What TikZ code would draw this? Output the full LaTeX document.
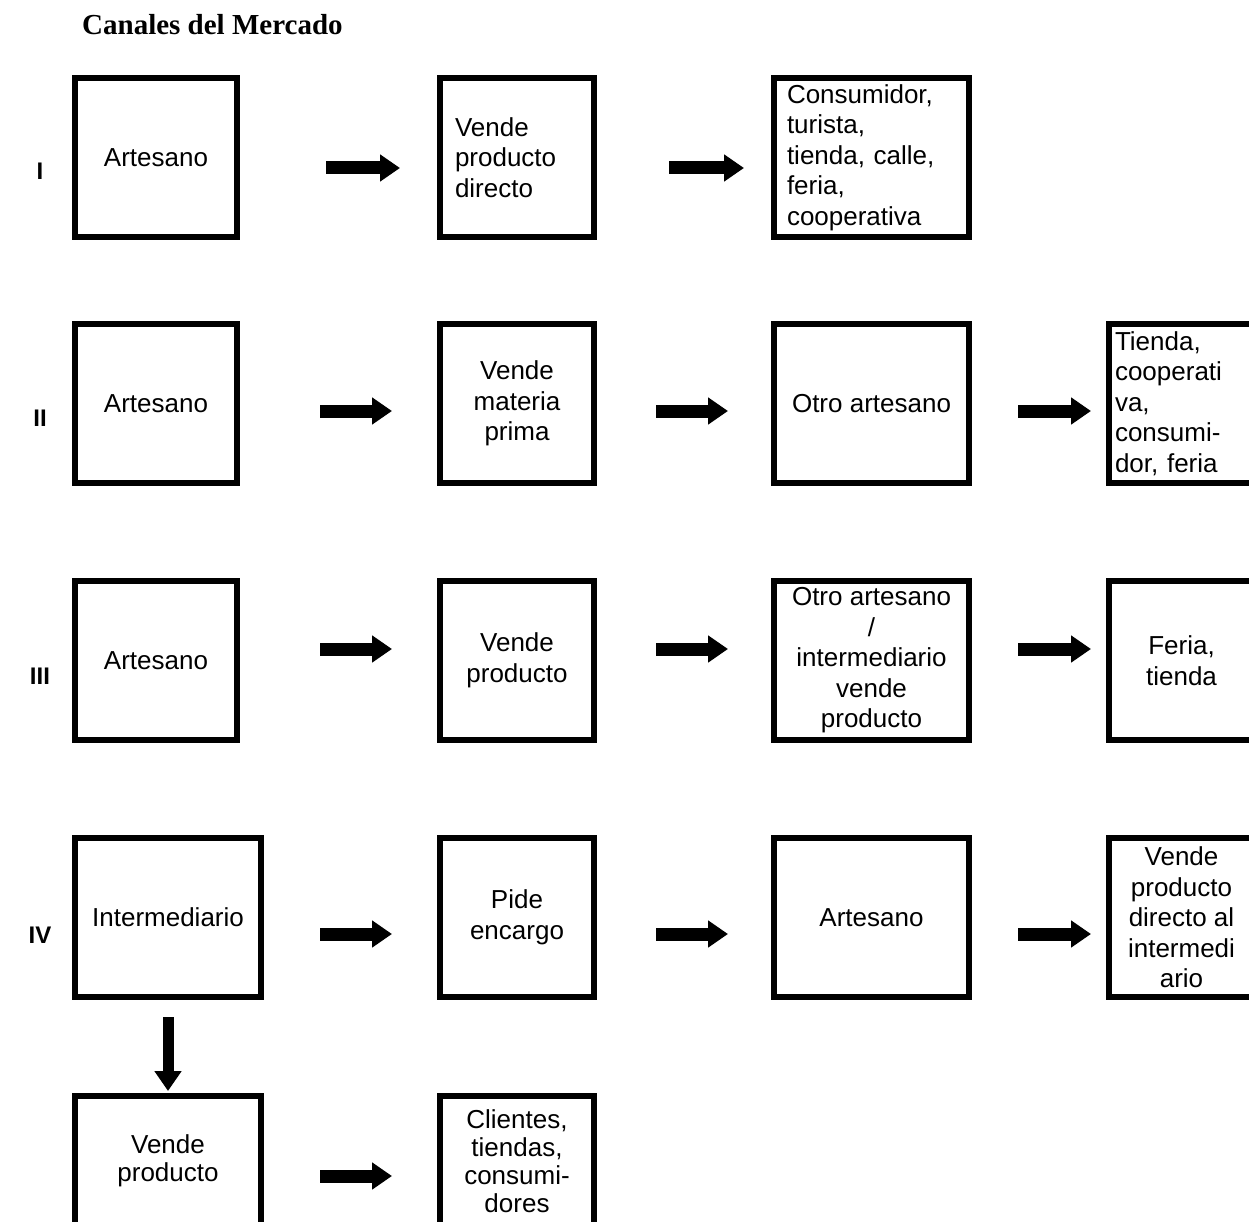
\documentclass[tikz,border=0pt]{standalone}
\usepackage{fontspec}
\setmainfont{Liberation Sans}
\newfontfamily\titelfont{Liberation Serif}
\usetikzlibrary{arrows.meta, calc}
\tikzset{
    kasten/.style={draw, line width=5.5pt, outer sep=0pt, inner sep=0pt,
        align=center, minimum height=159pt, font=\fontsize{26}{30.5}\selectfont},
    pfeil/.style={line width=13pt, -{Triangle[length=20pt,width=26pt]}},
    stufe/.style={font=\fontsize{24}{28}\selectfont\bfseries},
}

\begin{document}
\begin{tikzpicture}[x=1pt, y=-1pt]

% Rahmen (Bildgroesse)
\useasboundingbox (0,0) rectangle (1249,1222);

% Titel
\node[anchor=base west, inner sep=0pt, font=\titelfont\fontsize{29}{34}\selectfont\bfseries] (titel) at (82,35) {Canales del Mercado};

% Stufen
\node[stufe] (L1) at (40,171) {I};
\node[stufe] (L2) at (40,418) {II};
\node[stufe] (L3) at (40,676) {III};
\node[stufe] (L4) at (40,935) {IV};

% Zeile I
\node[kasten, minimum width=162pt] (A1) at (156,157.5) {Artesano};
\node[kasten, minimum width=154pt, text width=124pt, align=left] (A2) at (517,157.5) {Vende\\producto\\directo};
\node[kasten, minimum width=195pt, text width=169pt, align=left] (A3) at (871.5,157.5) {Consumidor,\\turista,\\tienda, calle,\\feria,\\cooperativa};

% Zeile II
\node[kasten, minimum width=162pt] (B1) at (156,403.5) {Artesano};
\node[kasten, minimum width=154pt] (B2) at (517,403.5) {Vende\\materia\\prima};
\node[kasten, minimum width=195pt] (B3) at (871.5,403.5) {Otro artesano};
\node[kasten, minimum width=145pt, text width=133pt, align=left] (B4) at (1181.5,403.5) {Tienda,\\cooperati\\va,\\consumi-\\dor, feria};

% Zeile III
\node[kasten, minimum width=162pt] (C1) at (156,660.5) {Artesano};
\node[kasten, minimum width=154pt] (C2) at (517,660.5) {Vende\\producto};
\node[kasten, minimum width=195pt] (C3) at (871.5,660.5) {Otro artesano\\/\\intermediario\\vende\\producto};
\node[kasten, minimum width=145pt] (C4) at (1181.5,660.5) {Feria,\\tienda};

% Zeile IV
\node[kasten, minimum width=186pt] (D1) at (168,917.5) {Intermediario};
\node[kasten, minimum width=154pt] (D2) at (517,917.5) {Pide\\encargo};
\node[kasten, minimum width=195pt] (D3) at (871.5,917.5) {Artesano};
\node[kasten, minimum width=145pt] (D4) at (1181.5,917.5) {Vende\\producto\\directo al\\intermedi\\ario};

% Zeile V (unten abgeschnitten)
\node[kasten, minimum width=186pt, minimum height=130pt, font=\fontsize{26}{28}\selectfont] (E1) at (168,1161) {Vende\\producto};
\node[kasten, minimum width=154pt, minimum height=130pt, font=\fontsize{26}{28}\selectfont] (E2) at (517,1161) {Clientes,\\tiendas,\\consumi-\\dores};

% Pfeile Zeile I
\draw[pfeil, shorten <=89pt, shorten >=40pt] ([yshift=-10.5pt]A1.east) -- ([yshift=-10.5pt]A2.west);
\draw[pfeil, shorten <=75pt, shorten >=30pt] ([yshift=-10.5pt]A2.east) -- ([yshift=-10.5pt]A3.west);

% Pfeile Zeile II
\draw[pfeil, shorten <=83pt, shorten >=48pt] ([yshift=-7.5pt]B1.east) -- ([yshift=-7.5pt]B2.west);
\draw[pfeil, shorten <=62pt, shorten >=46pt] ([yshift=-7.5pt]B2.east) -- ([yshift=-7.5pt]B3.west);
\draw[pfeil, shorten <=49pt, shorten >=18pt] ([yshift=-7.5pt]B3.east) -- ([yshift=-7.5pt]B4.west);

% Pfeile Zeile III
\draw[pfeil, shorten <=83pt, shorten >=48pt] ([yshift=11.5pt]C1.east) -- ([yshift=11.5pt]C2.west);
\draw[pfeil, shorten <=62pt, shorten >=46pt] ([yshift=11.5pt]C2.east) -- ([yshift=11.5pt]C3.west);
\draw[pfeil, shorten <=49pt, shorten >=18pt] ([yshift=11.5pt]C3.east) -- ([yshift=11.5pt]C4.west);

% Pfeile Zeile IV
\draw[pfeil, shorten <=59pt, shorten >=48pt] ([yshift=-16.5pt]D1.east) -- ([yshift=-16.5pt]D2.west);
\draw[pfeil, shorten <=62pt, shorten >=46pt] ([yshift=-16.5pt]D2.east) -- ([yshift=-16.5pt]D3.west);
\draw[pfeil, shorten <=49pt, shorten >=18pt] ([yshift=-16.5pt]D3.east) -- ([yshift=-16.5pt]D4.west);

% Pfeil nach unten und Zeile V
\draw[pfeil, line width=11pt, shorten <=20pt, shorten >=5pt] (D1.south) -- (E1.north);
\draw[pfeil, shorten <=59pt, shorten >=48pt] ([yshift=-15pt]E1.east) -- ([yshift=-15pt]E2.west);

\end{tikzpicture}
\end{document}
